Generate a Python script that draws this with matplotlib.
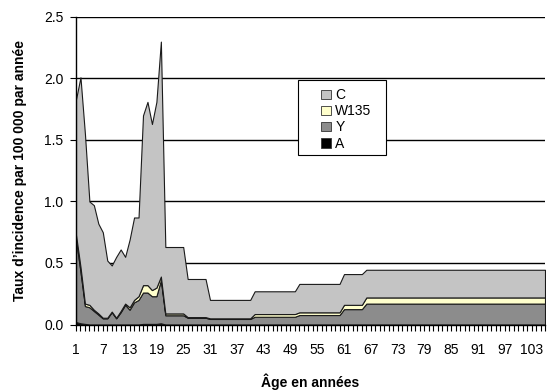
import numpy as np
import matplotlib
matplotlib.use("Agg")
import matplotlib.pyplot as plt
from matplotlib.patches import Patch, Rectangle

plt.rcParams['font.family'] = ['Liberation Sans', 'DejaVu Sans']

ages = list(range(1, 107))

A = ([0.02, 0.01, 0.005, 0, 0, 0, 0, 0, 0, 0,
      0, 0, 0, 0, 0, 0.005, 0.005, 0.005, 0.005, 0.01]
     + [0.0] * 86)
Y = ([0.67, 0.42, 0.145, 0.14, 0.11, 0.08, 0.05, 0.05, 0.10, 0.05,
      0.10, 0.16, 0.12, 0.18, 0.20, 0.255, 0.255, 0.225, 0.225, 0.35]
     + [0.075] * 5 + [0.055] * 5 + [0.045] * 10 + [0.063] * 10
     + [0.077] * 10 + [0.125] * 5 + [0.17] * 41)
W135 = ([0.04, 0.04, 0.02, 0.02, 0.01, 0.01, 0.005, 0.005, 0.005, 0.005,
         0.01, 0.01, 0.02, 0.02, 0.03, 0.06, 0.06, 0.05, 0.07, 0.03]
        + [0.015] * 5 + [0.005] * 5 + [0.005] * 10 + [0.022] * 10
        + [0.022] * 10 + [0.035] * 5 + [0.05] * 41)
C = ([1.10, 1.54, 1.38, 0.84, 0.85, 0.73, 0.695, 0.465, 0.375, 0.495,
      0.50, 0.38, 0.55, 0.67, 0.64, 1.38, 1.49, 1.35, 1.51, 1.91]
     + [0.54] * 5 + [0.31] * 5 + [0.15] * 10 + [0.185] * 10
     + [0.231] * 10 + [0.25] * 5 + [0.225] * 41)

series_names = ['A', 'Y', 'W135', 'C']
colors = ['#000000', '#8c8c8c', '#ffffcc', '#c4c4c4']
xtick_labels = list(range(1, 104, 6))
yticks = [0.0, 0.5, 1.0, 1.5, 2.0, 2.5]

W, H = 555, 392
fig = plt.figure(figsize=(W / 100, H / 100), dpi=100)
ax_l, ax_r, ax_t, ax_b = 76, 545, 17, 324.5
ax = fig.add_axes([ax_l / W, (H - ax_b) / H, (ax_r - ax_l) / W, (ax_b - ax_t) / H])

polys = ax.stackplot(ages, A, Y, W135, C, colors=colors,
                     edgecolor='#1a1a1a', linewidth=0.8)

ax.set_xlim(1, 106)
ax.set_ylim(0, 2.5)
ax.set_yticks(yticks)
ax.set_yticklabels([f"{v:.1f}" for v in yticks], fontsize=10)
ax.yaxis.grid(True, color='black', linewidth=1.0)
ax.set_axisbelow(True)

ax.set_xticks(xtick_labels)
ax.set_xticklabels([str(v) for v in xtick_labels], fontsize=10)
ax.set_xticks(ages, minor=True)
ax.tick_params(axis='x', which='both', length=4, width=0.8, direction='out', pad=9)
ax.tick_params(axis='y', length=4, width=0.8, direction='out', pad=5)

for s in ['top', 'right']:
    ax.spines[s].set_visible(False)
ax.spines['left'].set_linewidth(1.0)
ax.spines['bottom'].set_linewidth(1.0)

ax.set_xlabel("Âge en années", fontsize=10, fontweight='bold', labelpad=12)
ax.set_ylabel("Taux d\u2019incidence par 100 000 par année", fontsize=10,
              fontweight='bold', labelpad=12)

def px2ax(x, y):
    return (x - ax_l) / (ax_r - ax_l), (ax_b - y) / (ax_b - ax_t)

# legend frame
bx0, by0 = px2ax(298, 155)
bx1, by1 = px2ax(386, 80)
frame = Rectangle((bx0, by0), bx1 - bx0, by1 - by0, transform=ax.transAxes,
                  facecolor='white', edgecolor='black', linewidth=0.8,
                  zorder=5, clip_on=False)
ax.add_patch(frame)

handles = [Patch(facecolor=colors[i], edgecolor='#333333', linewidth=0.6)
           for i in [3, 2, 1, 0]]
labels = [series_names[i] for i in [3, 2, 1, 0]]
leg = ax.legend(handles, labels, loc='upper left',
                bbox_to_anchor=px2ax(313, 80),
                fontsize=10, frameon=False,
                handlelength=0.7, handleheight=0.7,
                handletextpad=0.3, labelspacing=0.15, borderpad=0.6,
                borderaxespad=0.0)
leg.set_zorder(6)

fig.savefig("out.png", dpi=100)
